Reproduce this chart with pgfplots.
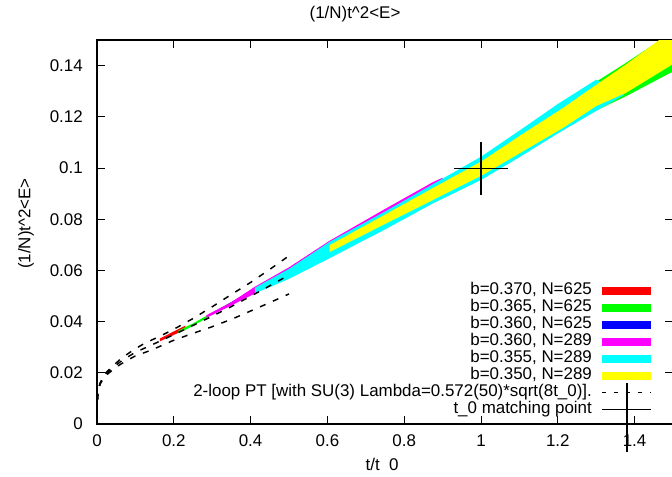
\documentclass[border=0pt]{standalone}
\usepackage{fontspec}
\setmainfont{Liberation Sans}
\usepackage{pgfplots}
\pgfplotsset{compat=1.18}

\definecolor{gpred}{RGB}{255,0,0}
\definecolor{gpgreen}{RGB}{0,255,0}
\definecolor{gpblue}{RGB}{0,0,255}
\definecolor{gpmagenta}{RGB}{255,0,255}
\definecolor{gpcyan}{RGB}{0,255,255}
\definecolor{gpyellow}{RGB}{255,255,0}

\pgfplotsset{
  band/.style={fill=#1, draw=none,
    legend image code/.code={\fill[fill=#1] (0pt,-3pt) rectangle (36.75pt,3pt);}},
  ptline/.style={black, line width=1.1pt, dash pattern=on 4.5pt off 6pt},
  ptlegend/.style={legend image code/.code={
    \draw[black, line width=0.8pt, dash pattern=on 3pt off 6pt] (0pt,0pt) -- (36.75pt,0pt);}},
  crosslegend/.style={legend image code/.code={
    \draw[black, line width=0.8pt] (0pt,0pt) -- (36.75pt,0pt);
    \draw[black, line width=0.8pt, overlay] (18.4pt,20pt) -- (18.4pt,-31.5pt);}},
}

\begin{document}
\fontsize{12.7}{15.2}\selectfont
\begin{tikzpicture}[font=\fontsize{12.7}{15.2}\selectfont]
\begin{axis}[
  name=ax,
  scale only axis,
  width=432pt, height=288pt,
  xmin=0, xmax=1.5, ymin=0, ymax=0.15,
  xtick={0,0.2,0.4,0.6,0.8,1.0,1.2,1.4},
  xticklabels={0,0.2,0.4,0.6,0.8,1,1.2,1.4},
  ytick={0,0.02,0.04,0.06,0.08,0.1,0.12,0.14},
  yticklabels={0,0.02,0.04,0.06,0.08,0.1,0.12,0.14},
  tick align=inside,
  major tick length=6pt,
  every tick/.style={black, line width=0.7pt},
  axis line style={line width=0.9pt},
  xticklabel style={anchor=base, yshift=-16.5pt, inner sep=0pt},
  yticklabel style={anchor=east, xshift=-10.5pt, inner sep=0pt},
  title={(1/N)t\textasciicircum 2<E>},
  title style={at={(axis description cs:0.448,1)}, anchor=base, yshift=10pt, inner sep=0pt},
  xlabel={t/t\hspace{0.55em}0},
  xlabel style={at={(axis description cs:0.495,0)}, anchor=base, yshift=-35pt, inner sep=0pt},
  ylabel={(1/N)t\textasciicircum 2<E>},
  ylabel style={at={(axis description cs:-0.1233,0.522)}, anchor=center, inner sep=0pt},
  legend plot pos=right,
  legend cell align=right,
  legend style={at={(axis description cs:0.9635,0.369)}, anchor=north east,
    draw=none, fill=none, inner sep=0pt, outer sep=0pt, row sep=0pt,
    /tikz/every odd column/.append style={column sep=7.5pt},
    nodes={inner sep=0pt, text height=8.9pt, text depth=3.85pt}},
]
% b=0.370, N=625
\addplot[band=gpred] coordinates {
  (0.164,0.0334) (0.19,0.0354) (0.21,0.0369) (0.23,0.0384)
  (0.23,0.0368) (0.21,0.0355) (0.19,0.0341) (0.164,0.0323)};
\addlegendentry{b=0.370, N=625}
% b=0.365, N=625
\addplot[band=gpgreen] coordinates {
  (0.212,0.0365) (0.25,0.0393) (0.3,0.0435) (0.4,0.0517) (0.6,0.0698)
  (0.8,0.0875) (1.0,0.1028) (1.2,0.1238) (1.3,0.1337) (1.377,0.1410) (1.5,0.1533)
  (1.5,0.1377) (1.377,0.1280) (1.3,0.1225) (1.2,0.1148) (1.0,0.0968)
  (0.8,0.0835) (0.6,0.0668) (0.4,0.0503) (0.3,0.0427) (0.25,0.0383) (0.212,0.0355)};
\addlegendentry{b=0.365, N=625}
% b=0.360, N=625
\addplot[band=gpblue] coordinates {
  (0.3,0.0432) (0.411,0.0530) (0.5,0.0600) (0.606,0.0703) (0.75,0.0826) (0.85,0.0912)
  (0.85,0.0890) (0.75,0.0806) (0.606,0.0683) (0.5,0.0587) (0.411,0.0516) (0.3,0.0428)};
\addlegendentry{b=0.360, N=625}
% b=0.360, N=289
\addplot[band=gpmagenta] coordinates {
  (0.285,0.0425) (0.35,0.0476) (0.411,0.0536) (0.5,0.0612) (0.606,0.0716)
  (0.75,0.0840) (0.875,0.0945) (0.9,0.0962)
  (0.9,0.0910) (0.875,0.0890) (0.75,0.0790) (0.606,0.0670) (0.5,0.0575)
  (0.411,0.0510) (0.35,0.0463) (0.285,0.0415)};
\addlegendentry{b=0.360, N=289}
% b=0.355, N=289
\addplot[band=gpcyan] coordinates {
  (0.411,0.0532) (0.5,0.0606) (0.606,0.0712) (0.75,0.0830) (0.875,0.0937)
  (1.0,0.1044) (1.1,0.1146) (1.2,0.1250) (1.3,0.1345)
  (1.373,0.1286) (1.3,0.1223) (1.2,0.1135) (1.1,0.1042) (1.0,0.0953)
  (0.875,0.0862) (0.75,0.0760) (0.606,0.0648) (0.5,0.0567) (0.411,0.0510)};
\addlegendentry{b=0.355, N=289}
% b=0.350, N=289
\addplot[band=gpyellow] coordinates {
  (0.606,0.0699) (0.75,0.0818) (0.875,0.0922) (1.0,0.1025) (1.1,0.1125)
  (1.213,0.1234) (1.3,0.1325) (1.377,0.1404) (1.5,0.1540)
  (1.5,0.1406) (1.377,0.1293) (1.3,0.1242) (1.213,0.1156) (1.1,0.1057)
  (1.0,0.0969) (0.875,0.0875) (0.75,0.0781) (0.606,0.0672)};
\addlegendentry{b=0.350, N=289}
% 2-loop PT
\addplot[ptline, ptlegend] coordinates {
  (0,0.004) (0.001,0.009) (0.003,0.0129) (0.008,0.0158) (0.02,0.019) (0.035,0.0211)
  (0.06,0.0242) (0.08,0.0262) (0.1,0.0280) (0.15,0.0314) (0.2,0.0349) (0.25,0.0385)
  (0.3,0.0421) (0.35,0.0459) (0.4,0.0499) (0.45,0.0540) (0.5,0.0582)};
\addlegendentry{2-loop PT [with SU(3) Lambda=0.572(50)*sqrt(8t\_0)].}
\addplot[ptline, forget plot] coordinates {
  (0,0.004) (0.001,0.009) (0.003,0.013) (0.008,0.016) (0.02,0.0195) (0.035,0.0218)
  (0.06,0.0252) (0.08,0.0274) (0.1,0.0294) (0.125,0.0316) (0.164,0.0343) (0.2,0.037)
  (0.25,0.0412) (0.3,0.0458) (0.35,0.0506) (0.4,0.0553) (0.45,0.0604) (0.5,0.0657)};
\addplot[ptline, forget plot] coordinates {
  (0,0.004) (0.001,0.009) (0.003,0.0128) (0.008,0.0156) (0.02,0.0186) (0.035,0.0204)
  (0.06,0.0232) (0.08,0.025) (0.1,0.0266) (0.142,0.0289) (0.198,0.0326) (0.246,0.0352)
  (0.298,0.0379) (0.355,0.0412) (0.407,0.0446) (0.454,0.0477) (0.5,0.0508)};
% t_0 matching point
\addplot[black, mark=none, draw=none, crosslegend,
  error bars/.cd, x dir=both, x explicit, y dir=both, y explicit,
  error mark=none, error bar style={black, line width=0.8pt}]
  coordinates {(1.0,0.0997) +- (0.07,0.0104)};
\addlegendentry{t\_0 matching point}
\end{axis}
\pgfresetboundingbox
\path[use as bounding box] ([shift={(-72.75pt,-39pt)}]ax.south west)
  rectangle ([shift={(431.25pt,318pt)}]ax.south west);
\end{tikzpicture}
\end{document}
